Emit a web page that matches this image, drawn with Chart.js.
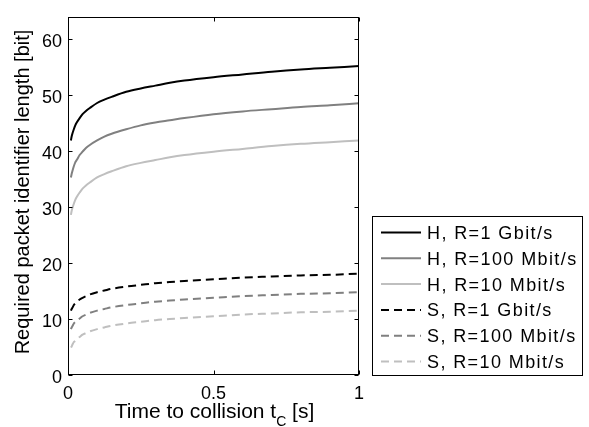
<!DOCTYPE html>
<html><head><meta charset="utf-8">
<script src="https://cdn.jsdelivr.net/npm/chart.js@4/dist/chart.umd.min.js"></script>
<style>html,body{margin:0;padding:0;background:#fff}#wrap{width:589px;height:427px}</style>
</head><body><div id="wrap"><canvas id="c" width="589" height="427"></canvas></div>
<script>
// Time to collision t_C [s]
const timeToCollision = [0.01,0.0125,0.015,0.02,0.025,0.03,0.04,0.05,0.0625,0.075,0.1,0.125,0.15,0.2,0.25,0.3,0.35,0.4,0.5,0.6,0.7,0.8,0.9,1.0];
// Required packet identifier length [bit]
const hash1G   = [41.9,42.6,43.1,43.9,44.6,45.1,45.9,46.6,47.2,47.7,48.6,49.2,49.7,50.6,51.2,51.7,52.2,52.6,53.2,53.7,54.2,54.6,54.9,55.2];
const hash100M = [35.3,35.9,36.4,37.3,38.0,38.4,39.3,39.9,40.6,41.1,41.9,42.6,43.1,43.9,44.6,45.1,45.5,45.9,46.6,47.1,47.5,47.9,48.2,48.55];
const hash10M  = [28.6,29.3,29.8,30.6,31.3,31.8,32.6,33.3,33.9,34.4,35.3,35.9,36.4,37.3,37.9,38.4,38.9,39.3,39.9,40.4,40.9,41.3,41.6,41.9];
const seq1G    = [11.5,11.8,12.0,12.5,12.8,13.0,13.5,13.8,14.1,14.4,14.8,15.1,15.4,15.8,16.1,16.4,16.6,16.8,17.1,17.4,17.6,17.8,17.9,18.1];
const seq100M  = [8.2,8.5,8.7,9.2,9.5,9.7,10.1,10.5,10.8,11.1,11.5,11.8,12.1,12.5,12.8,13.1,13.3,13.5,13.8,14.1,14.3,14.5,14.6,14.8];
const seq10M   = [4.9,5.1,5.4,5.9,6.1,6.4,6.8,7.2,7.5,7.8,8.2,8.5,8.8,9.2,9.5,9.8,10.0,10.2,10.5,10.8,11.0,11.2,11.3,11.5];
const seriesLabels = ['H, R=1 Gbit/s','H, R=100 Mbit/s','H, R=10 Mbit/s','S, R=1 Gbit/s','S, R=100 Mbit/s','S, R=10 Mbit/s'];
const xTickValues = [0, 0.5, 1];
const yTickValues = [0, 10, 20, 30, 40, 50, 60];
const xTitleMain = 'Time to collision t';
const xTitleSub = 'C';
const xTitleEnd = ' [s]';
const yTitle = 'Required packet identifier length [bit]';

const seriesValues = [hash1G, hash100M, hash10M, seq1G, seq100M, seq10M];
const colors = ['#000000', '#808080', '#bfbfbf', '#000000', '#808080', '#bfbfbf'];
const dashes = [[], [], [], [8, 5], [8, 5], [8, 5]];
const FONT = '"Liberation Sans", Arial, Helvetica, sans-serif';

const datasets = seriesValues.map((vals, i) => ({
  label: seriesLabels[i],
  data: timeToCollision.map((t, k) => ({x: t, y: vals[k]})),
  borderColor: colors[i],
  backgroundColor: colors[i],
  borderWidth: 2,
  borderDash: dashes[i],
  pointRadius: 0,
  fill: false,
  cubicInterpolationMode: 'monotone'
}));

const decor = {
  id: 'decor',
  afterDraw(chart) {
    const ctx = chart.ctx;
    const a = chart.chartArea;
    const xs = chart.scales.x, ys = chart.scales.y;
    ctx.save();
    ctx.strokeStyle = '#000';
    ctx.lineWidth = 1;
    const L = Math.round(a.left) + 0.5, R = Math.round(a.right) - 0.5;
    const T = Math.round(a.top) + 0.5, B = Math.round(a.bottom) - 0.5;
    ctx.strokeRect(L, T, R - L, B - T);
    const tl = 4;
    ctx.beginPath();
    xTickValues.forEach(v => {
      const px = Math.round(xs.getPixelForValue(v)) + 0.5;
      ctx.moveTo(px, B); ctx.lineTo(px, B - tl);
      ctx.moveTo(px, T); ctx.lineTo(px, T + tl);
    });
    yTickValues.forEach(v => {
      const py = Math.round(ys.getPixelForValue(v)) + 0.5;
      ctx.moveTo(L, py); ctx.lineTo(L + tl, py);
      ctx.moveTo(R, py); ctx.lineTo(R - tl, py);
    });
    ctx.stroke();

    // x title with subscript
    ctx.fillStyle = '#000';
    ctx.textBaseline = 'alphabetic';
    ctx.textAlign = 'left';
    const mainFont = '21px ' + FONT, subFont = '14px ' + FONT;
    ctx.font = mainFont;
    const w1 = ctx.measureText(xTitleMain).width;
    const w3 = ctx.measureText(xTitleEnd).width;
    ctx.font = subFont;
    const w2 = ctx.measureText(xTitleSub).width;
    const cx = (a.left + a.right) / 2 + 1;
    let x0 = cx - (w1 + w2 + w3) / 2;
    const by = 418;
    ctx.font = mainFont;
    ctx.fillText(xTitleMain, x0, by);
    ctx.font = subFont;
    ctx.fillText(xTitleSub, x0 + w1, by + 8);
    ctx.font = mainFont;
    ctx.fillText(xTitleEnd, x0 + w1 + w2, by);

    // y title
    ctx.save();
    ctx.translate(29, 192);
    ctx.rotate(-Math.PI / 2);
    ctx.textAlign = 'center';
    ctx.font = '20px ' + FONT;
    ctx.fillText(yTitle, 0, 0);
    ctx.restore();

    // legend
    const bx = 372.5, bt = 216.5, bw = 210, bh = 159;
    ctx.fillStyle = '#fff';
    ctx.fillRect(bx, bt, bw, bh);
    ctx.strokeStyle = '#000';
    ctx.lineWidth = 1;
    ctx.strokeRect(bx, bt, bw, bh);
    ctx.font = '18px ' + FONT;
    try { ctx.letterSpacing = '1.4px'; } catch (e) {}
    ctx.textBaseline = 'middle';
    ctx.textAlign = 'left';
    chart.data.datasets.forEach((ds, i) => {
      const ry = 232.5 + i * 25.8;
      ctx.save();
      ctx.strokeStyle = ds.borderColor;
      ctx.lineWidth = 2;
      ctx.setLineDash(ds.borderDash);
      ctx.beginPath();
      ctx.moveTo(381, ry); ctx.lineTo(421, ry);
      ctx.stroke();
      ctx.restore();
      ctx.fillStyle = '#000';
      ctx.fillText(ds.label, 427, ry + 1.5);
    });
    ctx.restore();
  }
};

new Chart(document.getElementById('c'), {
  type: 'line',
  data: { datasets },
  options: {
    responsive: false,
    devicePixelRatio: 1,
    animation: false,
    layout: { padding: { top: 7, right: 230, left: 0, bottom: 0 } },
    plugins: { legend: { display: false }, tooltip: { enabled: false } },
    scales: {
      x: {
        type: 'linear', min: 0, max: 1,
        afterFit: s => { s.height = 52; },
        afterBuildTicks: s => { s.ticks = xTickValues.map(v => ({value: v})); },
        grid: { display: false, drawTicks: false },
        border: { display: false },
        ticks: { color: '#000', font: { family: FONT, size: 18 }, padding: 8, maxRotation: 0, autoSkip: false,
                 callback: v => String(v) }
      },
      y: {
        type: 'linear', min: 0, max: 64,
        afterFit: s => { s.width = 68; },
        afterBuildTicks: s => { s.ticks = yTickValues.map(v => ({value: v})); },
        grid: { display: false, drawTicks: false },
        border: { display: false },
        ticks: { color: '#000', font: { family: FONT, size: 18 }, padding: 6, labelOffset: 3, autoSkip: false,
                 callback: v => String(v) }
      }
    }
  },
  plugins: [decor]
});
</script></body></html>
